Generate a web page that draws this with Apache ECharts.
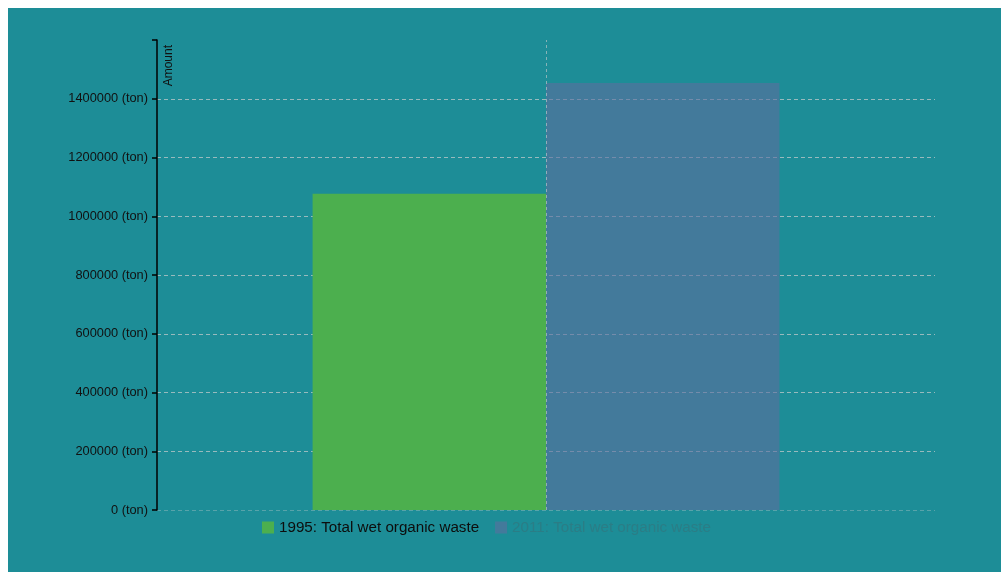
<!DOCTYPE html>
<html>
<head>
<meta charset="utf-8">
<script src="https://cdn.jsdelivr.net/npm/echarts@6/dist/echarts.min.js"></script>
<style>
  html, body { margin: 0; padding: 0; background: #ffffff; }
  body { padding: 8px 0 0 8px; }
  #chart { width: 993px; height: 564px; }
</style>
</head>
<body>
<div id="chart"></div>
<script>
const categories = ['Total wet organic waste'];
const seriesNames = ['1995: Total wet organic waste', '2011: Total wet organic waste'];
const values1995 = [1077000];
const values2011 = [1454000];
const yAxisName = 'Amount';
const yUnit = ' (ton)';
const yMin = 0;
const yMax = 1600000;
const yInterval = 200000;

const chart = echarts.init(document.getElementById('chart'), null, { renderer: 'canvas' });
const FONT = '"Liberation Sans", Arial, Helvetica, sans-serif';
const gridColors = ['rgba(200,205,205,0.35)'];
for (let v = yMin + yInterval; v < yMax; v += yInterval) gridColors.push('rgba(205,205,205,0.7)');
gridColors.push('rgba(0,0,0,0)');

chart.setOption({
  backgroundColor: '#1d8d97',
  animation: false,
  textStyle: { fontFamily: FONT },
  grid: { left: 149, top: 32, right: 66, bottom: 62, containLabel: false },
  legend: {
    left: 249, top: 507,
    icon: 'rect', itemWidth: 12, itemHeight: 12, itemGap: 16,
    textStyle: { fontSize: 15.2, color: '#0d0d0d', fontFamily: FONT },
    data: [
      { name: seriesNames[0] },
      { name: seriesNames[1], textStyle: { color: '#2b7d86' } }
    ],
    selectedMode: false
  },
  xAxis: {
    type: 'category',
    data: categories,
    axisLine: { show: false },
    axisTick: { show: false },
    axisLabel: { show: false },
    splitLine: { show: false }
  },
  yAxis: {
    type: 'value',
    min: yMin, max: yMax, interval: yInterval,
    axisLine: { show: true, lineStyle: { color: '#000', width: 1.5 } },
    axisTick: { show: true, length: 5, lineStyle: { color: '#000', width: 1.5 } },
    axisLabel: {
      margin: 9, fontSize: 12.8, color: '#111', fontFamily: FONT,
      formatter: v => (v === yMax ? '' : v + yUnit)
    },
    splitLine: { show: true, lineStyle: { color: gridColors, type: [4, 3], width: 1 } }
  },
  series: [
    {
      name: 'centerline', type: 'line', data: [],
      z: 1,
      markLine: {
        silent: true, symbol: 'none', label: { show: false },
        lineStyle: { color: 'rgba(205,205,205,0.6)', type: [3, 3], width: 1 },
        data: [{ xAxis: categories[0] }]
      }
    },
    {
      name: seriesNames[0], type: 'bar', data: values1995,
      barGap: '0%', barCategoryGap: '40%',
      itemStyle: { color: '#4caf4e' },
      z: 2
    },
    {
      name: seriesNames[1], type: 'bar', data: values2011,
      barGap: '0%', barCategoryGap: '40%',
      itemStyle: { color: '#5d6e9e', opacity: 0.6 },
      z: 3
    }
  ],
  graphic: [{
    type: 'text',
    x: 155, y: 37,
    rotation: Math.PI / 2,
    style: {
      text: yAxisName, fontSize: 12, fill: '#111', fontFamily: FONT,
      align: 'right', verticalAlign: 'top'
    }
  }]
});
</script>
</body>
</html>
